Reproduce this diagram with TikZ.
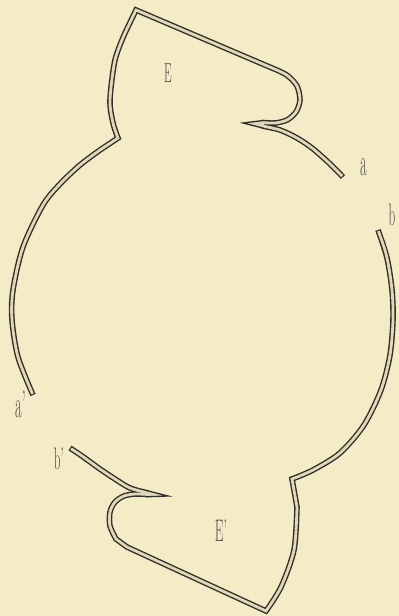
\documentclass[tikz,border=0pt]{standalone}
\definecolor{paper}{RGB}{244,235,199}
\definecolor{ink}{RGB}{50,47,38}
\definecolor{core}{RGB}{224,216,184}
\begin{document}
\begin{tikzpicture}[x=1pt,y=-1pt,
  tubeink/.style={draw=ink, line width=5.6pt, line cap=butt, line join=miter},
  tubecore/.style={draw=core, line width=2.8pt, line cap=butt, line join=miter},
  barb/.style={draw=ink, line width=1.3pt, fill=core, line join=miter},
  lab/.style={text=ink!85, inner sep=0pt, anchor=base}]
\fill[paper] (0,0) rectangle (399,616);
\useasboundingbox (0,0) rectangle (399,616);

% arc from end a up to the barb of chamber E
\def\arcA{plot[smooth] coordinates {(343,177) (328,162) (312,148) (297,138) (280,130) (262,126)}}
% hook of E, its roof and left wall, then the long arc down to end a'
\def\wallE{plot[smooth] coordinates {(262,122.5) (275,123) (287,120) (296,112) (300,100) (297,86) (288,76) (279,71) (268,66.3)}
  -- (136,10)
  -- plot[smooth] coordinates {(125,33) (115,60) (110,100) (113,123) (118,138)}
  -- plot[smooth] coordinates {(100,150) (80,165) (60,184) (43,205) (23,247) (13,290) (12,320) (18,357) (33,395)}}
% arc from end b down to chamber E', its wall, floor and hook
\def\wallF{plot[smooth] coordinates {(378,230) (387,258) (392,290) (393,320) (390,355) (381,390) (364,425) (340,453) (313,470) (292,479)}
  -- plot[smooth] coordinates {(297,507) (294,550) (281,587) (266,611)}
  -- (127,547)
  -- plot[smooth] coordinates {(116,539) (110,526) (110,512) (115,502) (124,496) (135,494) (148,494.5)}}
% arc from end b' to the barb of E'
\def\arcD{plot[smooth] coordinates {(70,448) (82,456) (100,469) (115,479) (130,488) (148,493)}}

% outer walls first, then the hollow cores, so joints merge
\draw[tubeink] \arcA;
\draw[tubeink] \wallE;
\draw[tubeink] \wallF;
\draw[tubeink] \arcD;
\draw[tubecore, shorten <=1.2pt] \arcA;
\draw[tubecore, shorten >=1.2pt] \wallE;
\draw[tubecore, shorten <=1.2pt] \wallF;
\draw[tubecore, shorten <=1.2pt] \arcD;

% barbs where hook and arc meet
\draw[barb] (264,120.4) -- (243,123) -- (264,128.3);
\draw[barb] (146,490.4) -- (168,496) -- (146,496.8);

% lettering
\node[lab, font=\fontsize{22}{22}\selectfont] (lE) at (168,82) {\scalebox{0.55}[1.25]{E}};
\node[lab, font=\fontsize{25}{25}\selectfont] (lE2) at (221,541) {\scalebox{0.55}[1.25]{E'}};
\node[lab, font=\fontsize{24}{24}\selectfont] (la) at (364,175) {\scalebox{0.6}[1.6]{a}};
\node[lab, font=\fontsize{24}{24}\selectfont] (lb) at (392,225) {\scalebox{0.55}[1.3]{b}};
\node[lab, font=\fontsize{24}{24}\selectfont] (la2) at (21,417) {\scalebox{0.6}[1.6]{a'}};
\node[lab, font=\fontsize{24}{24}\selectfont] (lb2) at (59,469) {\scalebox{0.55}[1.3]{b'}};
\end{tikzpicture}
\end{document}
